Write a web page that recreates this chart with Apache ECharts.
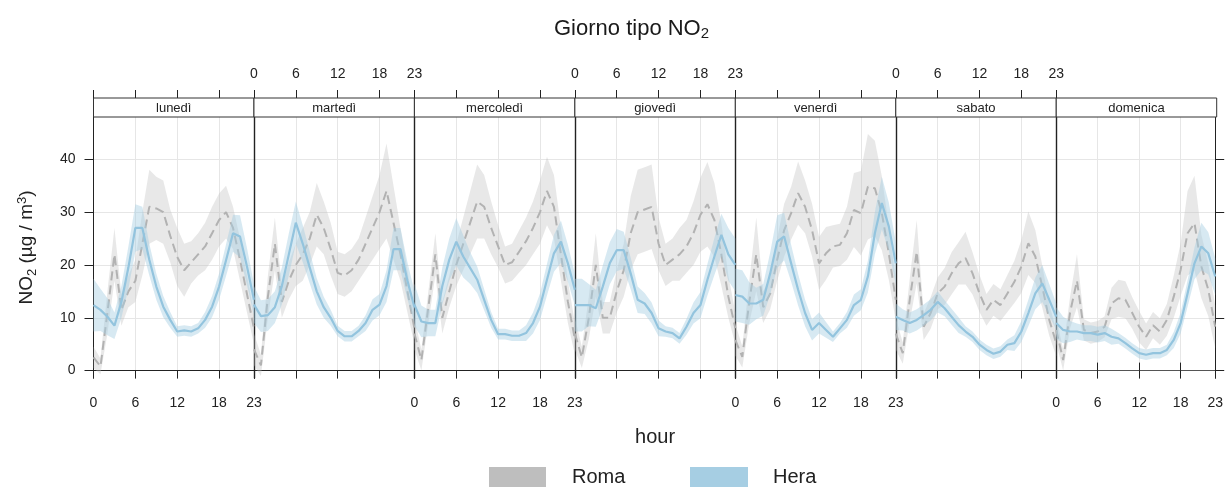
<!DOCTYPE html>
<html><head><meta charset="utf-8">
<script src="https://cdn.jsdelivr.net/npm/echarts@6/dist/echarts.min.js"></script>
<style>html,body{margin:0;padding:0;background:#fff}#c{width:1226px;height:487px}</style>
</head><body><div id="c"></div>
<script>
const days = ['lunedì','martedì','mercoledì','giovedì','venerdì','sabato','domenica'];
const hours = ['0','1','2','3','4','5','6','7','8','9','10','11','12','13','14','15','16','17','18','19','20','21','22','23'];
const hourTicks = [0,6,12,18,23];
const yTicks = [0,10,20,30,40];

const romaMean = [
 [2.5,0.8,11,22,11.5,15,17,24,31,30.7,30,25.5,21.5,19,20.5,22,23.5,26,28.5,30,27,21,14.5,8],
 [4,1,14,24,13,17,20,22,25,29.5,27,23,18.5,18,19,21,24,27,30,34,28,22,15,8],
 [7,2,12,22,10,15,20,24,28,32,31,27,23.5,20,20.5,22.5,24.5,27,30,34,31,22,13,6],
 [7,2.5,10,20,10,10,15,19,26,30,30.5,31,24,20,21,22,23.5,26,29.5,31.5,28.5,22,14,8],
 [5.8,2.6,13,22,12,14.6,21,26.6,29.8,33.6,31,26.6,20.3,22.2,23.5,23.8,26,30.4,29.8,34.8,34.5,29.8,22.2,13.4],
 [7,3.3,13.4,22.5,8.3,10.9,14.6,15.9,18.4,20.3,21.3,18.4,14.6,11.5,13.4,12.4,14.6,16.8,19.7,24.1,21.6,15.9,9.6,5.2],
 [7.7,2,11,17,7.7,7.1,7.4,8.3,12.7,13.7,13.4,10.9,8.3,6.4,8.6,7.4,9.6,14,19.1,26,27.9,19.7,15.3,8.3]
];
const romaCI = [
 [2,1.5,4,5,3,3,4,6,7,6,6,5,5.5,5,4,4,4.5,5,5,5,4,4,3.5,3],
 [3,2,4,5,3,3.5,4,5,5,6,5,5,4,4,4,4,5,6,7,9,7,5,4,3],
 [3,2,3,4,3,3,4,5,6,7,6,5,4,3.5,3.5,4,4.5,5,6,6.5,6,5,4,3],
 [3,2,4,6,3,3,4,5,7,8,8,8,5,4,4,5,5,6,7,8,7,6,4,3],
 [3,2,4,7,3,3,4,5,5,6,5,5,5,5,4,4,5,7,8,10,9,7,5,4],
 [3,2,4,6,2.5,3,3,3.5,4,4,5,4,3.5,3,3,3,3.5,4,5,6,5,4,3,2.5],
 [2.5,2,3,5,2,2,2,2,3,3.5,3.5,3,3,2.5,2.5,2.5,3,4,5,8,9,6,5,4]
];
const heraMean = [
 [12.4,11.5,10.2,8.5,13,19.5,27,27,21,15.9,12.1,9.6,7.4,7.6,7.4,8,9.6,12.1,15.9,20.9,26,25.4,19.7,13.4],
 [12.5,10.3,10.5,12,16,22,28,24,19.5,15,12,10,7.5,6.5,6.5,7.5,9,11.5,12.5,16,23,23,17,12],
 [12.5,9.3,9,9,16,21,24.4,21.6,19.4,17.2,13.4,9.6,6.9,6.9,6.6,6.6,7.1,9,12.1,17.2,22.2,24.4,20.3,15.3],
 [12.4,12.4,12.4,11.8,15.9,20.3,22.8,22.8,18.4,13.4,12.7,10.9,8,7.4,7.1,6.1,8.3,10.9,12.4,17.2,21.6,25.7,22,20],
 [14.3,14,12.7,12.7,13.4,18.4,24.4,25.4,20.3,15.3,10.9,7.7,9,7.7,6.4,8,9.6,12.4,13.4,17.8,26,31.7,27.3,20.3],
 [10.2,9.6,9,9.6,10.5,11.5,13,11.8,10.2,8.6,7.4,6.4,4.9,3.9,3.2,3.6,4.9,5.2,7.4,10.9,14.6,16.5,13.4,10.2],
 [9,7.7,7.4,7.4,7.1,7.1,6.8,7.1,6.4,6.1,5.2,4.2,3.3,3,3.3,3.3,3.9,5.8,9,14.6,20.3,23.5,22.2,17.8]
];
const heraCI = [
 [5,4,3.5,2.5,3,4,4.5,4,3,2.5,2,1.5,1,1,1,1,1.5,2,2.5,3,3.5,4,3.5,3],
 [3.5,3,3,3,3.5,4,4,3.5,3,2.5,2,1.5,1,1,1,1,1.5,2,2,3,4,4,3.5,3],
 [4,3,2.5,2.5,3.5,4,4.5,4,3,2.5,2,1.5,1,1,1,1,1.5,2,2.5,3,3.5,4,3.5,3],
 [5,5,4,3.5,4,4,4,3.5,3,2.5,2,2,1.5,1,1,1,1.5,2,2.5,3,3.5,4,5,5],
 [5,5,4,3,3,4,5,4.5,3.5,3,2.5,2,2,1.5,1,1,1.5,2,2,3,4,5,4.5,4],
 [2.5,2,2,2,2,2,2,1.5,1.5,1.5,1,1,1,1,1,1,1,1.5,2,2.5,3,3.5,3,2.5],
 [3,2.5,2,1.5,1.5,1.5,1.5,1.5,1.5,1,1,1,1,1,1,1,1,1.5,2,2.5,3,4.5,4,3.5]
];

const FONT = '"Liberation Sans", Arial, Helvetica, sans-serif';
const L = 93.5, R = 1216.7, TOP = 117, BOT = 378, STRIP_TOP = 98;
const W = (R - L) / 7;
const GRID_C = '#e6e6e6', AX_C = '#222';
const ROMA_C = '#bebebe', HERA_C = '#a6cee3';

const grid = [], xAxis = [], yAxis = [], series = [], graphic = [];
const tickIv = (idx) => hourTicks.indexOf(idx) >= 0;

days.forEach((d, i) => {
  const left = L + i * W;
  grid.push({left: left, top: TOP, width: W, height: BOT - TOP});
  xAxis.push({
    type: 'category', gridIndex: i, data: hours, boundaryGap: false, position: 'bottom',
    axisLine: {show: true, lineStyle: {color: AX_C, width: 1}},
    axisTick: {show: true, interval: tickIv, length: 8, lineStyle: {color: AX_C}},
    axisLabel: {show: i % 2 === 0, interval: tickIv, margin: 18, fontSize: 14, color: '#222', fontFamily: FONT},
    splitLine: {show: true, interval: tickIv, lineStyle: {color: GRID_C, width: 1}},
    name: i === 3 ? 'hour' : '', nameLocation: 'middle', nameGap: 49,
    nameTextStyle: {fontSize: 20, color: '#222', fontFamily: FONT}
  });
  xAxis.push({
    type: 'category', gridIndex: i, data: hours, boundaryGap: false, position: 'top', offset: TOP - STRIP_TOP,
    axisLine: {show: true, lineStyle: {color: '#555', width: 1}},
    axisTick: {show: true, interval: tickIv, length: 8, lineStyle: {color: AX_C}},
    axisLabel: {show: i % 2 === 1, interval: tickIv, margin: 17, fontSize: 14, color: '#222', fontFamily: FONT},
    splitLine: {show: false}
  });
  yAxis.push({
    type: 'value', gridIndex: i, min: -1.4, max: 48, position: 'left',
    axisLine: {show: true, lineStyle: {color: AX_C, width: i === 0 ? 1 : 1.4}},
    axisTick: {show: i === 0, customValues: yTicks, length: 9, lineStyle: {color: AX_C}},
    axisLabel: {show: i === 0, customValues: yTicks, margin: 18, fontSize: 14, color: '#222', fontFamily: FONT},
    splitLine: {show: true, lineStyle: {color: GRID_C, width: 1}},
    name: i === 0 ? 'NO{s|2} (µg / m{p|3})' : '', nameLocation: 'middle', nameRotate: 90, nameGap: 55,
    nameTextStyle: {fontSize: 19, color: '#222', fontFamily: FONT,
      rich: {s: {fontSize: 13, verticalAlign: 'bottom', padding: [10, 0, 0, 0], fontFamily: FONT, color: '#222'},
             p: {fontSize: 13, verticalAlign: 'top', padding: [0, 0, 10, 0], fontFamily: FONT, color: '#222'}}}
  });

  const band = (name, mean, ci, color, z) => {
    series.push({
      name: name + 'lo', type: 'line', xAxisIndex: 2 * i, yAxisIndex: i, stack: name + 'b' + i, stackStrategy: 'all',
      data: mean[i].map((m, k) => m - ci[i][k]), symbol: 'none', silent: true, z: z,
      lineStyle: {width: 0, opacity: 0}
    });
    series.push({
      name: name + 'hi', type: 'line', xAxisIndex: 2 * i, yAxisIndex: i, stack: name + 'b' + i, stackStrategy: 'all',
      data: ci[i].map(c => 2 * c), symbol: 'none', silent: true, z: z,
      lineStyle: {width: 0, opacity: 0}, areaStyle: {color: color, opacity: 1}
    });
  };
  band('roma', romaMean, romaCI, 'rgba(190,190,190,0.36)', 2);
  series.push({
    name: 'Roma', type: 'line', xAxisIndex: 2 * i, yAxisIndex: i, data: romaMean[i], symbol: 'none', z: 3,
    lineStyle: {color: '#b2b2b2', width: 2, type: [9, 5]}, itemStyle: {color: ROMA_C}
  });
  band('hera', heraMean, heraCI, 'rgba(166,206,227,0.45)', 4);
  series.push({
    name: 'Hera', type: 'line', xAxisIndex: 2 * i, yAxisIndex: i, data: heraMean[i], symbol: 'none', z: 5,
    lineStyle: {color: '#93c4de', width: 2.2}, itemStyle: {color: HERA_C}
  });

  graphic.push({type: 'rect', shape: {x: left, y: STRIP_TOP, width: W, height: TOP - STRIP_TOP},
    style: {fill: '#fff', stroke: '#333', lineWidth: 1}, z: 10});
  graphic.push({type: 'text', x: left + W / 2, y: (STRIP_TOP + TOP) / 2 + 0.5,
    style: {text: d, font: '13px ' + FONT, fill: '#222', textAlign: 'center', textVerticalAlign: 'middle'}, z: 11});
});
yAxis.push({
  type: 'value', gridIndex: 6, min: -1.4, max: 48, position: 'right',
  axisLine: {show: true, lineStyle: {color: AX_C, width: 1}},
  axisTick: {show: true, customValues: yTicks, length: 9, lineStyle: {color: AX_C}},
  axisLabel: {show: false}, splitLine: {show: false}
});

graphic.push({type: 'rect', shape: {x: 489, y: 467, width: 57, height: 20}, style: {fill: ROMA_C}});
graphic.push({type: 'text', x: 572, y: 477, style: {text: 'Roma', font: '20px ' + FONT, fill: '#222', textVerticalAlign: 'middle'}});
graphic.push({type: 'rect', shape: {x: 690, y: 467, width: 58, height: 20}, style: {fill: HERA_C}});
graphic.push({type: 'text', x: 773, y: 477, style: {text: 'Hera', font: '20px ' + FONT, fill: '#222', textVerticalAlign: 'middle'}});

const chart = echarts.init(document.getElementById('c'), null, {renderer: 'canvas'});
chart.setOption({
  backgroundColor: '#fff',
  animation: false,
  title: {
    text: 'Giorno tipo NO{s|2}', left: 549, top: 11,
    textStyle: {fontSize: 22, fontWeight: 'normal', color: '#1a1a1a', fontFamily: FONT,
      rich: {s: {fontSize: 15, verticalAlign: 'bottom', padding: [10, 0, 0, 0], color: '#1a1a1a', fontFamily: FONT}}}
  },
  grid: grid, xAxis: xAxis, yAxis: yAxis, series: series, graphic: graphic
});
</script></body></html>
